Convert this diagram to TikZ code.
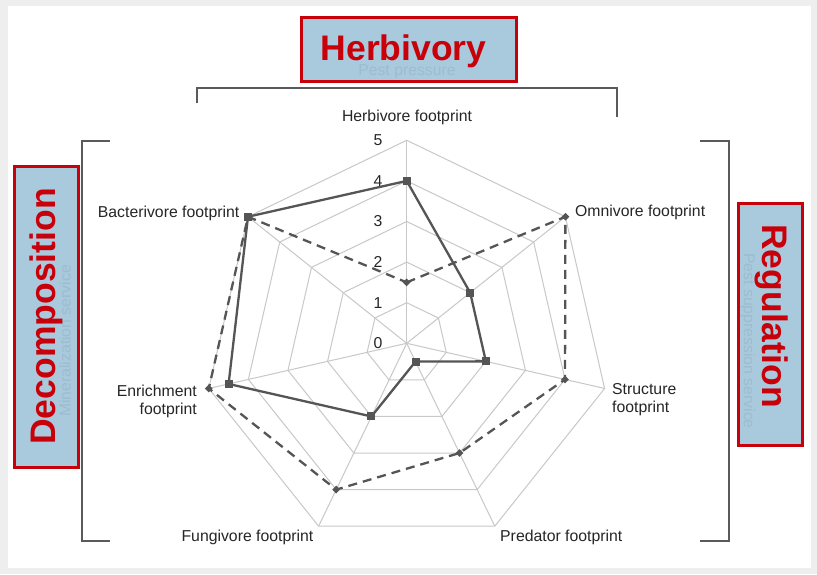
\documentclass[tikz,border=0pt]{standalone}
\usepackage{fontspec}
\setmainfont{Liberation Sans}
\usetikzlibrary{calc}
\definecolor{bggray}{HTML}{EEEEEE}
\definecolor{gridgray}{HTML}{C8C8C8}
\definecolor{datagray}{HTML}{555555}
\definecolor{boxfill}{HTML}{A9C9DD}
\definecolor{boxred}{HTML}{C8000A}
\definecolor{faint}{HTML}{9DBCD0}
\definecolor{bracketgray}{HTML}{5A5A5A}
\tikzset{
  gridline/.style={draw=gridgray, line width=1pt},
  solidline/.style={draw=datagray, line width=2.3pt, line join=round},
  dashline/.style={draw=datagray, line width=2.3pt, dash pattern=on 9pt off 6pt, line join=round},
  sqmark/.style={rectangle, fill=datagray, minimum size=8pt, inner sep=0pt},
  dmmark/.style={rectangle, fill=datagray, minimum size=5.5pt, inner sep=0pt, rotate=45},
  axlabel/.style={font=\fontsize{15.8}{18}\selectfont, text=black!85, inner sep=0pt},
  scalelabel/.style={font=\fontsize{15.8}{18}\selectfont, text=black!85, inner sep=0pt},
  catbox/.style={draw=boxred, line width=3pt, fill=boxfill, inner sep=0pt},
  cattext/.style={font=\fontsize{35.5}{40}\selectfont\bfseries, text=boxred, inner sep=0pt},
  fainttext/.style={font=\fontsize{15.8}{18}\selectfont, text=faint, inner sep=0pt},
  bracket/.style={draw=bracketgray, line width=1.5pt},
}
\begin{document}
\begin{tikzpicture}[x=1pt,y=1pt]
\useasboundingbox (0,0) rectangle (817,574);
\fill[bggray] (0,0) rectangle (817,574);
\fill[white] (8,6) rectangle (811,568);

\def\R{40.6}
\begin{scope}[shift={(406.7,230.7)}]
  % grid rings
  \foreach \k in {1,...,5}
    \draw[gridline] (90:{\k*\R}) \foreach \i in {1,...,6}{ -- ({90-\i*360/7}:{\k*\R})} -- cycle;
  % spokes
  \foreach \i in {0,...,6}
    \draw[gridline] (0,0) -- ({90-\i*360/7}:{5*\R});
  % data coordinates
  \foreach \v [count=\i from 0] in {1.5,5,4,3,4,5,5}
    \coordinate (d\i) at ({90-\i*360/7}:{\v*\R});
  \foreach \v [count=\i from 0] in {4,2,2,0.5,2,4.5,5}
    \coordinate (s\i) at ({90-\i*360/7}:{\v*\R});
\end{scope}

% scale labels
\foreach \k in {0,...,5}
  \node[scalelabel] (sc\k) at (378,{230.7+\k*\R}) {\k};

% data series
\draw[dashline] (d0) -- (d1) -- (d2) -- (d3) -- (d4) -- (d5) -- (d6) -- cycle;
\draw[solidline] (s0) -- (s1) -- (s2) -- (s3) -- (s4) -- (s5) -- (s6) -- cycle;
\foreach \i in {0,...,6} \node[dmmark] (md\i) at (d\i) {};
\foreach \i in {0,...,6} \node[sqmark] (ms\i) at (s\i) {};

% axis labels
\node[axlabel] (herb) at (407,457) {Herbivore footprint};
\node[axlabel, anchor=west] (omni) at (575,362) {Omnivore footprint};
\node[axlabel, anchor=west, align=left] (stru) at (612,174) {Structure\\footprint};
\node[axlabel, anchor=west] (pred) at (500,37) {Predator footprint};
\node[axlabel, anchor=east] (fung) at (313.5,37) {Fungivore footprint};
\node[axlabel, anchor=east, align=right] (enri) at (197,173) {Enrichment\\footprint};
\node[axlabel, anchor=east] (bact) at (239.5,361) {Bacterivore footprint};

% brackets
\coordinate (tb1) at (197,471); \coordinate (tb2) at (197,486);
\coordinate (tb3) at (617,486); \coordinate (tb4) at (617,457);
\draw[bracket] (tb1) -- (tb2) -- (tb3) -- (tb4);
\coordinate (lb1) at (110,433); \coordinate (lb2) at (82,433);
\coordinate (lb3) at (82,33); \coordinate (lb4) at (110,33);
\draw[bracket] (lb1) -- (lb2) -- (lb3) -- (lb4);
\coordinate (rb1) at (700,433); \coordinate (rb2) at (729,433);
\coordinate (rb3) at (729,33); \coordinate (rb4) at (700,33);
\draw[bracket] (rb1) -- (rb2) -- (rb3) -- (rb4);

% category boxes
\node[catbox, minimum width=215pt, minimum height=64pt] (herbbox) at (408.5,524) {};
\node[fainttext] (pest) at (407,502) {Pest pressure};
\node[cattext] (herbtxt) at (403.5,523) {Herbivory};

\node[catbox, minimum width=64pt, minimum height=300pt] (decbox) at (46,257) {};
\node[fainttext, rotate=90] (mine) at (65,233) {Mineralization service};
\node[cattext, rotate=90] (dectxt) at (46,257.5) {Decomposition};

\node[catbox, minimum width=64pt, minimum height=241pt] (regbox) at (770,249.5) {};
\node[fainttext, rotate=-90] (supp) at (748,233) {Pest suppression service};
\node[cattext, rotate=-90] (regtxt) at (772,258) {Regulation};
\end{tikzpicture}
\end{document}
